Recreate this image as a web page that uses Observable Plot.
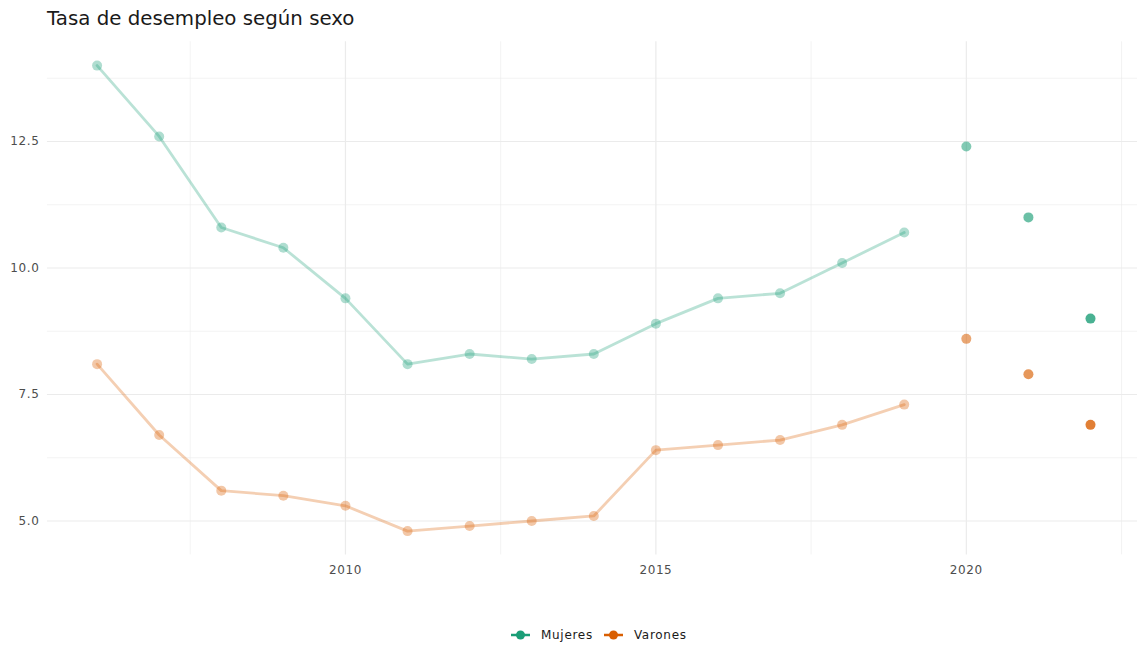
<!DOCTYPE html>
<html>
<head>
<meta charset="utf-8">
<script src="https://cdn.jsdelivr.net/npm/d3@7"></script>
<script src="https://cdn.jsdelivr.net/npm/@observablehq/plot@0.6"></script>
<style>
  html, body { margin: 0; padding: 0; background: #fff; }
  #wrap { position: relative; width: 1137px; height: 646px; overflow: hidden; font-family: "DejaVu Sans", sans-serif; }
  #title { position: absolute; left: 47px; top: 7px; font-size: 19.8px; color: #1a1a1a; white-space: nowrap; }
  #legend { position: absolute; left: 511px; top: 628px; display: flex; align-items: center; font-size: 12px; letter-spacing: 0.7px; color: #1a1a1a; white-space: nowrap; }
  #legend span.item { display: inline-flex; align-items: center; margin-right: 11px; }
  #legend svg { margin-right: 11px; }
  #chart { position: absolute; left: 0; top: 0; }
</style>
</head>
<body>
<div id="wrap">
  <div id="chart"></div>
  <div id="title">Tasa de desempleo según sexo</div>
  <div id="legend"></div>
</div>
<script>
const years = [2006, 2007, 2008, 2009, 2010, 2011, 2012, 2013, 2014, 2015, 2016, 2017, 2018, 2019, 2020, 2021, 2022];
const mujeres = [14.0, 12.6, 10.8, 10.4, 9.4, 8.1, 8.3, 8.2, 8.3, 8.9, 9.4, 9.5, 10.1, 10.7, 12.4, 11.0, 9.0];
const varones = [8.1, 6.7, 5.6, 5.5, 5.3, 4.8, 4.9, 5.0, 5.1, 6.4, 6.5, 6.6, 6.9, 7.3, 8.6, 7.9, 6.9];
const series = ["Mujeres", "Varones"];
const colors = ["#1B9E77", "#D95F02"];
const xTicks = [2010, 2015, 2020];
const xMinor = [2007.5, 2012.5, 2017.5, 2022.5];
const yTicks = [5.0, 7.5, 10.0, 12.5];
const yMinor = [6.25, 8.75, 11.25, 13.75];
// opacity of the highlighted recent points
const recentYears = [2020, 2021, 2022];
const recentAlpha = [0.55, 0.65, 0.8];

const data = [];
years.forEach((y, i) => {
  data.push({year: y, sexo: "Mujeres", valor: mujeres[i]});
  data.push({year: y, sexo: "Varones", valor: varones[i]});
});
const past = data.filter(d => d.year <= 2019);
const recent = data.filter(d => d.year >= 2020).map(d => ({...d, alpha: recentAlpha[recentYears.indexOf(d.year)]}));

const chart = Plot.plot({
  width: 1137,
  height: 646,
  marginTop: 41,
  marginBottom: 93,
  marginLeft: 47,
  marginRight: 0,
  style: {fontFamily: "DejaVu Sans, sans-serif", fontSize: "12px", background: "#fff", letterSpacing: "0.6px"},
  x: {domain: [2006, 2022], range: [96.6, 1090], axis: null},
  y: {domain: [5, 12.5], range: [520.5, 141], axis: null},
  color: {domain: series, range: colors},
  marks: [
    Plot.ruleX(xMinor, {stroke: "#EBEBEB", strokeWidth: 0.6, y1: 4.33, y2: 14.47}),
    Plot.ruleY(yMinor, {stroke: "#EBEBEB", strokeWidth: 0.6, x1: 2005.2, x2: 2022.9}),
    Plot.ruleX(xTicks, {stroke: "#EBEBEB", strokeWidth: 1.2, y1: 4.33, y2: 14.47}),
    Plot.ruleY(yTicks, {stroke: "#EBEBEB", strokeWidth: 1.2, x1: 2005.2, x2: 2022.9}),
    Plot.text(xTicks, {x: d => d, y: 4.33, dy: 15, text: d => String(d), fill: "#4D4D4D", fontSize: 12}),
    Plot.text(yTicks, {x: 2005.2, y: d => d, dx: -8, text: d => d.toFixed(1), textAnchor: "end", fill: "#4D4D4D", fontSize: 12}),
    Plot.line(past, {x: "year", y: "valor", z: "sexo", stroke: "sexo", strokeWidth: 2.8, strokeOpacity: 0.3}),
    Plot.dot(past, {x: "year", y: "valor", fill: "sexo", r: 5, fillOpacity: 0.35}),
    Plot.dot(recent, {x: "year", y: "valor", fill: "sexo", r: 5, fillOpacity: "alpha"})
  ]
});
document.getElementById("chart").appendChild(chart);

const legend = document.getElementById("legend");
series.forEach((s, i) => {
  const item = document.createElement("span");
  item.className = "item";
  item.innerHTML = `<svg width="19" height="12"><line x1="0" y1="6" x2="19" y2="6" stroke="${colors[i]}" stroke-width="2.5"/><circle cx="9.5" cy="6" r="4.5" fill="${colors[i]}"/></svg>${s}`;
  legend.appendChild(item);
});
</script>
</body>
</html>
